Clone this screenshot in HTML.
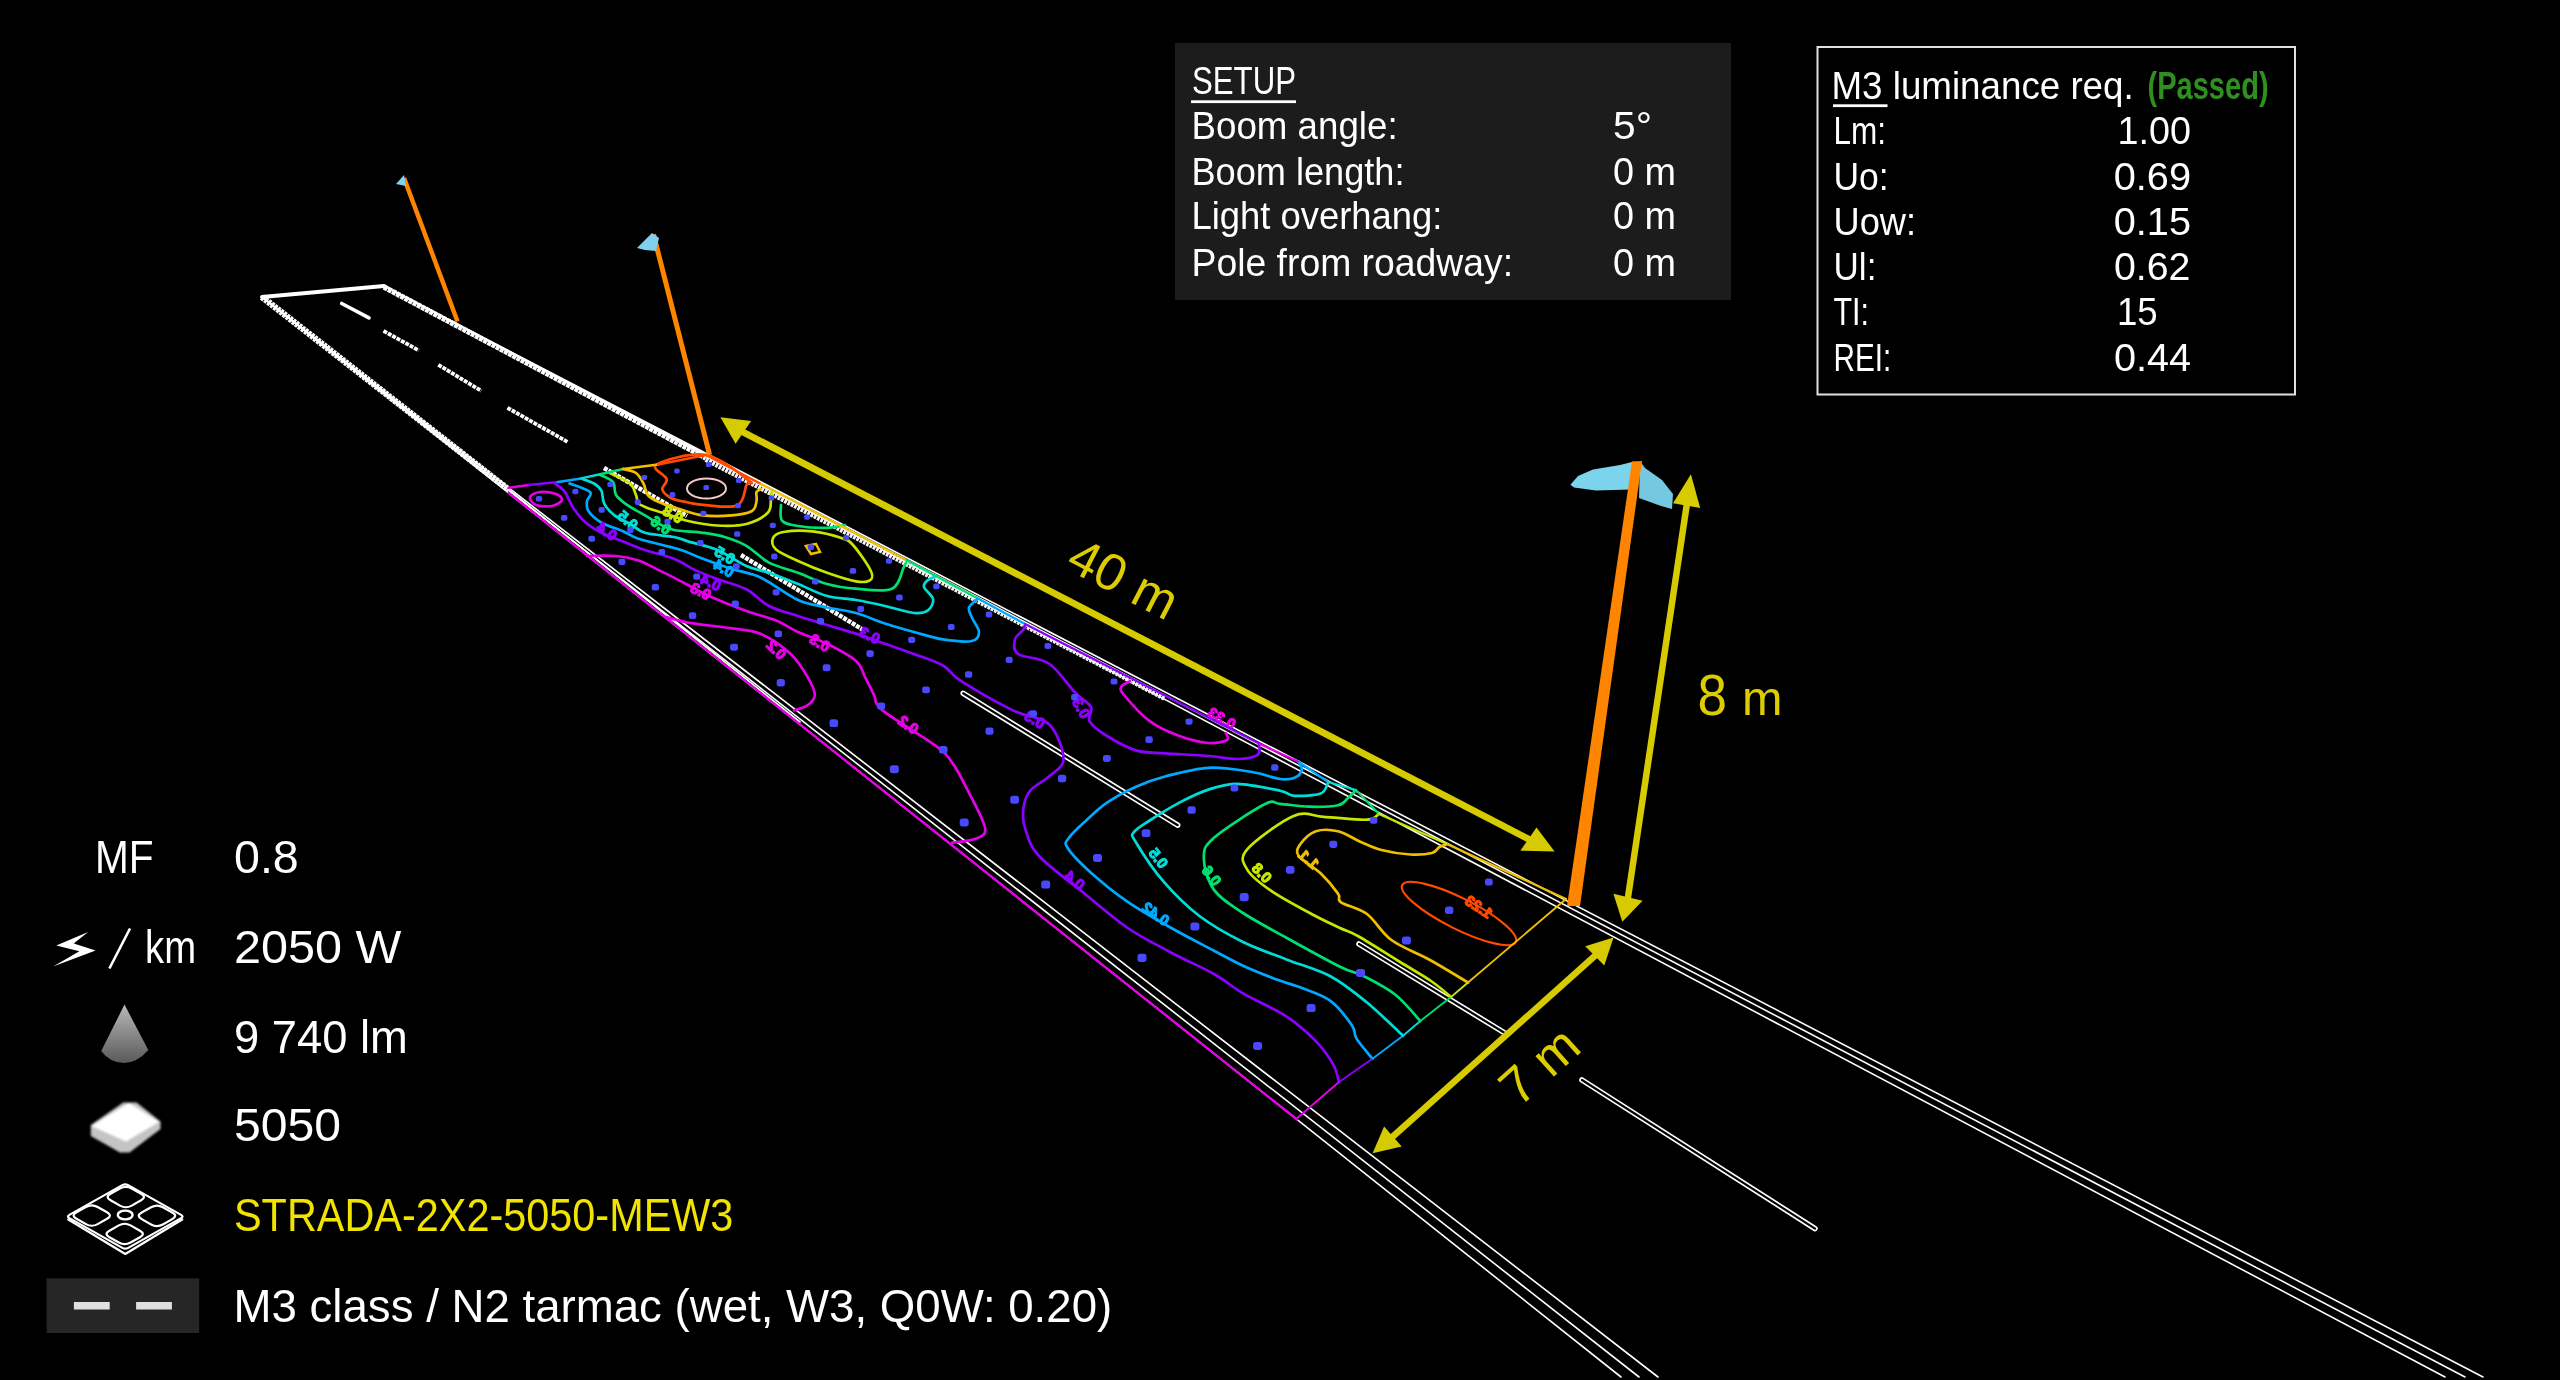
<!DOCTYPE html>
<html><head><meta charset="utf-8"><style>
html,body{margin:0;padding:0;background:#000;overflow:hidden}
svg{display:block}
text{font-family:"Liberation Sans", sans-serif}
svg{will-change:transform}
</style></head><body>
<svg xmlns="http://www.w3.org/2000/svg" width="2560" height="1380" viewBox="0 0 2560 1380">
<rect width="2560" height="1380" fill="#000"/>
<g fill="none" stroke-linecap="round">
<line x1="262" y1="297" x2="384" y2="286" stroke="#fff" stroke-width="4"/>
<line x1="384" y1="286" x2="2483" y2="1377" stroke="#fff" stroke-width="1.6"/>
<line x1="384" y1="286" x2="2465" y2="1377" stroke="#fff" stroke-width="1.6"/>
<line x1="384" y1="286" x2="2445" y2="1377" stroke="#fff" stroke-width="1.6"/>
<line x1="262" y1="297" x2="1621" y2="1377" stroke="#fff" stroke-width="1.6"/>
<line x1="262" y1="297" x2="1639" y2="1377" stroke="#fff" stroke-width="1.6"/>
<line x1="262" y1="297" x2="1658" y2="1377" stroke="#fff" stroke-width="1.6"/>
<line x1="384" y1="287" x2="706" y2="458" stroke="#fff" stroke-width="5.5" stroke-dasharray="4 0.7" stroke-linecap="butt"/>
<line x1="262" y1="297" x2="509" y2="490" stroke="#fff" stroke-width="6.5" stroke-dasharray="3 0.9" stroke-linecap="butt"/>
<line x1="706" y1="459" x2="1165" y2="698" stroke="#f4f4f4" stroke-width="6" stroke-dasharray="2.8 0.9" stroke-linecap="butt"/>
<line x1="509" y1="490" x2="800" y2="722" stroke="#fff" stroke-width="1.6"/>
</g>
<line x1="341.7" y1="303.5" x2="369" y2="317.8" stroke="#fff" stroke-width="3.6" stroke-linecap="round"/>
<line x1="383.5" y1="330.9" x2="418.7" y2="350.4" stroke="#fff" stroke-width="3.8" stroke-linecap="butt" stroke-dasharray="4 1"/>
<line x1="438.3" y1="364.8" x2="481.3" y2="390.9" stroke="#fff" stroke-width="3.8" stroke-linecap="butt" stroke-dasharray="4 1"/>
<line x1="507.4" y1="407.8" x2="567.4" y2="441.8" stroke="#fff" stroke-width="3.8" stroke-linecap="butt" stroke-dasharray="4 1"/>
<line x1="604" y1="468" x2="687" y2="516" stroke="#fff" stroke-width="4.5" stroke-linecap="butt" stroke-dasharray="4 1"/>
<line x1="741" y1="555" x2="865" y2="631" stroke="#fff" stroke-width="4.5" stroke-linecap="butt" stroke-dasharray="4 1"/>
<line x1="963.2" y1="693.3" x2="1177.7" y2="825.2" stroke="#fff" stroke-width="5.5" stroke-linecap="round"/>
<line x1="963.2" y1="693.3" x2="1177.7" y2="825.2" stroke="#000" stroke-width="2.2" stroke-linecap="round"/>
<line x1="1359" y1="944" x2="1505.6" y2="1033.5" stroke="#fff" stroke-width="5.5" stroke-linecap="round"/>
<line x1="1359" y1="944" x2="1505.6" y2="1033.5" stroke="#000" stroke-width="2.2" stroke-linecap="round"/>
<line x1="1582" y1="1080" x2="1815" y2="1228.6" stroke="#fff" stroke-width="5.5" stroke-linecap="round"/>
<line x1="1582" y1="1080" x2="1815" y2="1228.6" stroke="#000" stroke-width="2.2" stroke-linecap="round"/>
<path d="M656.5,464.6 C650.0,468.6 665.7,474.9 666.7,479.0 C667.7,483.1 661.6,486.1 662.3,489.3 C663.0,492.5 666.9,495.8 671.0,498.0 C675.1,500.2 681.2,501.1 687.0,502.3 C692.8,503.5 697.3,504.7 705.8,505.2 C714.2,505.7 730.9,508.6 737.7,505.2 C744.5,501.8 744.5,489.1 746.4,485.0 C748.3,480.9 755.7,485.6 749.0,480.6 C742.3,475.6 721.4,457.7 706.0,455.0 C690.6,452.3 663.0,460.6 656.5,464.6Z" fill="none" stroke="#ff4a00" stroke-width="2.7" stroke-linejoin="round" stroke-linecap="round"/>
<path d="M623.0,469.0 C625.2,469.7 632.6,470.6 636.0,473.0 C639.4,475.4 641.5,479.8 643.5,483.5 C645.5,487.2 645.1,491.9 647.8,495.0 C650.4,498.1 653.9,499.9 659.4,502.3 C664.9,504.7 673.7,507.4 681.0,509.6 C688.3,511.8 694.5,514.4 703.0,515.4 C711.5,516.4 723.8,516.1 732.0,515.4 C740.2,514.7 747.9,513.4 752.0,511.0 C756.1,508.6 755.8,504.2 756.5,501.0 C757.2,497.8 755.8,494.0 756.5,492.0 C757.2,490.0 760.2,489.5 761.0,489.0" fill="none" stroke="#f0c000" stroke-width="2.7" stroke-linejoin="round" stroke-linecap="round"/>
<path d="M610.0,473.0 C613.3,474.8 625.7,479.8 630.0,483.5 C634.3,487.2 634.5,491.6 636.0,495.0 C637.5,498.4 636.3,501.4 639.0,503.8 C641.7,506.2 647.4,507.9 652.0,509.6 C656.6,511.3 660.7,512.1 666.7,514.0 C672.7,515.9 679.6,519.1 688.0,521.0 C696.4,522.9 707.3,525.0 717.0,525.5 C726.7,526.0 737.9,526.2 746.4,524.0 C754.9,521.8 763.9,516.8 768.0,512.5 C772.1,508.2 770.3,501.6 771.0,498.0 C771.7,494.4 771.8,492.2 772.0,491.0" fill="none" stroke="#c8e600" stroke-width="2.7" stroke-linejoin="round" stroke-linecap="round"/>
<path d="M600.0,474.8 C602.2,476.0 610.3,478.6 613.0,482.0 C615.7,485.4 613.6,491.1 616.0,495.0 C618.4,498.9 622.7,501.8 627.5,505.2 C632.3,508.6 639.7,512.3 645.0,515.4 C650.3,518.5 654.6,521.6 659.4,524.0 C664.2,526.4 666.7,528.5 674.0,530.0 C681.3,531.5 694.6,531.6 703.0,532.8 C711.4,534.0 717.4,534.8 724.6,537.0 C731.8,539.2 739.0,541.5 746.4,545.8 C753.8,550.1 760.4,558.1 769.0,562.6 C777.6,567.1 788.3,569.2 798.0,572.8 C807.7,576.4 817.3,581.4 827.0,584.0 C836.7,586.6 845.2,587.9 856.0,588.7 C866.8,589.5 884.0,592.3 892.0,588.7 C900.0,585.1 901.5,571.3 903.8,567.0 C906.1,562.7 905.6,563.7 906.0,563.0" fill="none" stroke="#00e070" stroke-width="2.7" stroke-linejoin="round" stroke-linecap="round"/>
<path d="M781.0,505.0 C781.2,507.6 779.2,517.1 782.0,520.6 C784.8,524.1 790.5,524.8 798.0,526.0 C805.5,527.2 819.2,528.0 827.0,527.8 C834.8,527.6 842.0,525.5 845.0,525.0" fill="none" stroke="#00e070" stroke-width="2.7" stroke-linejoin="round" stroke-linecap="round"/>
<path d="M773.0,538.0 C774.2,535.1 776.9,533.1 783.5,532.0 C790.1,530.9 802.9,530.4 812.5,531.4 C822.1,532.4 834.6,535.7 841.4,538.0 C848.1,540.3 848.2,539.7 853.0,545.0 C857.8,550.3 867.5,564.2 870.4,570.0 C873.3,575.8 872.8,578.1 870.4,580.0 C868.0,581.9 863.2,582.6 856.0,581.4 C848.8,580.2 836.7,576.2 827.0,572.8 C817.3,569.4 806.5,564.9 798.0,561.0 C789.5,557.1 780.2,553.4 776.0,549.6 C771.8,545.8 771.8,540.9 773.0,538.0Z" fill="none" stroke="#c8e600" stroke-width="2.7" stroke-linejoin="round" stroke-linecap="round"/>
<path d="M582.6,479.0 C584.5,479.8 590.9,481.6 594.0,483.5 C597.1,485.4 599.7,487.3 601.4,490.7 C603.1,494.1 602.1,499.7 604.3,503.8 C606.5,507.9 610.1,512.0 614.5,515.4 C618.9,518.8 625.3,521.1 630.4,524.0 C635.5,526.9 637.7,530.6 645.0,532.8 C652.3,535.0 666.8,535.6 674.0,537.0 C681.2,538.4 680.8,539.2 688.0,541.4 C695.2,543.6 707.7,545.9 717.4,550.0 C727.1,554.1 737.8,562.2 746.4,566.0 C755.0,569.8 760.4,569.8 769.0,572.8 C777.6,575.8 788.3,580.1 798.0,584.0 C807.7,587.9 817.3,593.3 827.0,596.0 C836.7,598.7 846.3,598.3 856.0,600.0 C865.7,601.7 875.3,603.8 885.0,606.0 C894.7,608.2 906.8,612.3 914.0,613.0 C921.2,613.7 924.8,612.7 928.0,610.4 C931.2,608.1 933.7,602.9 933.0,599.0 C932.3,595.1 924.8,590.2 924.0,587.0 C923.2,583.8 925.8,581.8 928.0,580.0 C930.2,578.2 935.5,576.7 937.0,576.0" fill="none" stroke="#00dcd8" stroke-width="2.7" stroke-linejoin="round" stroke-linecap="round"/>
<path d="M569.6,483.5 C573.0,484.9 587.1,489.1 590.0,492.0 C592.9,494.9 587.3,497.8 587.0,501.0 C586.7,504.2 586.0,507.4 588.4,511.0 C590.8,514.6 595.6,519.2 601.4,522.6 C607.2,526.0 617.0,528.6 623.0,531.3 C629.0,533.9 631.6,536.3 637.7,538.5 C643.8,540.7 652.2,542.4 659.4,544.3 C666.6,546.2 673.7,547.6 681.0,550.0 C688.3,552.4 694.5,555.6 703.0,558.8 C711.5,562.0 722.3,565.9 732.0,569.0 C741.7,572.1 750.0,572.5 761.0,577.7 C772.0,582.9 787.0,595.0 798.0,600.0 C809.0,605.0 817.3,605.3 827.0,607.5 C836.7,609.7 846.3,610.3 856.0,613.0 C865.7,615.7 875.3,620.3 885.0,623.5 C894.7,626.7 904.3,629.4 914.0,632.0 C923.7,634.6 933.3,637.9 943.0,639.4 C952.7,640.9 966.0,642.2 972.0,641.0 C978.0,639.8 979.0,635.9 979.0,632.0 C979.0,628.1 973.7,621.8 972.0,617.7 C970.3,613.6 968.0,610.6 969.0,607.5 C970.0,604.4 976.2,600.4 977.7,599.0" fill="none" stroke="#00a8ff" stroke-width="2.7" stroke-linejoin="round" stroke-linecap="round"/>
<path d="M555.0,483.5 C556.7,484.9 562.1,488.1 565.0,492.0 C567.9,495.9 569.3,501.9 572.5,506.7 C575.7,511.5 579.2,516.6 584.0,521.0 C588.8,525.4 594.9,529.4 601.4,532.8 C607.9,536.2 615.7,538.5 623.0,541.4 C630.3,544.3 636.5,547.1 645.0,550.0 C653.5,552.9 665.5,555.4 674.0,558.8 C682.5,562.2 688.5,567.0 695.7,570.4 C702.9,573.8 709.0,575.9 717.4,579.0 C725.8,582.1 737.8,584.8 746.4,589.3 C755.0,593.8 760.4,601.5 769.0,606.0 C777.6,610.5 788.3,612.8 798.0,616.0 C807.7,619.2 817.3,622.1 827.0,625.0 C836.7,627.9 846.3,630.5 856.0,633.6 C865.7,636.7 875.3,640.4 885.0,643.8 C894.7,647.2 904.3,650.4 914.0,654.0 C923.7,657.6 935.2,661.0 943.0,665.5 C950.8,670.0 949.2,673.4 960.9,680.9 C972.6,688.4 998.3,703.2 1013.0,710.4 C1027.7,717.6 1040.6,716.2 1049.0,724.3 C1057.4,732.4 1063.5,750.3 1063.5,759.0 C1063.5,767.7 1054.5,771.3 1049.0,776.5 C1043.5,781.7 1034.7,785.2 1030.4,790.4 C1026.2,795.6 1024.4,801.4 1023.5,807.8 C1022.6,814.2 1022.6,820.7 1025.2,828.7 C1027.8,836.7 1029.3,845.3 1039.0,856.0 C1048.7,866.7 1068.8,880.9 1083.5,892.8 C1098.2,904.7 1112.5,917.6 1127.0,927.5 C1141.5,937.4 1155.9,944.5 1170.4,952.2 C1184.9,960.0 1201.8,967.1 1214.0,974.0 C1226.2,980.9 1231.3,986.5 1243.5,993.6 C1255.7,1000.7 1274.9,1008.8 1287.0,1016.8 C1299.1,1024.8 1308.3,1033.4 1316.0,1041.4 C1323.7,1049.4 1329.5,1057.8 1333.3,1064.6 C1337.1,1071.4 1338.0,1079.1 1339.0,1082.0" fill="none" stroke="#8c00ff" stroke-width="2.7" stroke-linejoin="round" stroke-linecap="round"/>
<path d="M1025.0,626.0 C1024.6,626.8 1024.3,628.5 1022.6,630.7 C1020.9,632.9 1015.8,635.5 1015.0,639.4 C1014.2,643.3 1012.3,650.0 1018.0,654.0 C1023.7,658.0 1039.5,657.1 1049.0,663.5 C1058.5,669.9 1068.0,685.2 1075.0,692.5 C1082.0,699.8 1088.6,702.2 1091.0,707.0 C1093.4,711.8 1086.9,716.6 1089.6,721.4 C1092.3,726.2 1099.3,731.2 1107.0,736.0 C1114.7,740.8 1126.3,747.5 1136.0,750.4 C1145.7,753.3 1152.9,752.4 1165.0,753.3 C1177.1,754.2 1196.3,755.0 1208.4,756.0 C1220.5,757.0 1229.2,759.2 1237.4,759.0 C1245.6,758.8 1254.1,757.3 1257.7,754.8 C1261.3,752.3 1258.8,745.8 1259.0,744.0" fill="none" stroke="#8c00ff" stroke-width="2.7" stroke-linejoin="round" stroke-linecap="round"/>
<path d="M1130.0,681.0 C1128.6,682.0 1122.4,684.4 1121.4,686.7 C1120.4,689.0 1119.2,689.2 1124.0,695.0 C1128.8,700.8 1140.8,714.6 1150.0,721.4 C1159.2,728.2 1169.7,732.4 1179.4,736.0 C1189.1,739.6 1200.5,742.3 1208.4,743.0 C1216.3,743.7 1224.1,741.7 1227.0,740.0 C1229.9,738.3 1226.0,734.2 1225.8,733.0" fill="none" stroke="#e600e6" stroke-width="2.7" stroke-linejoin="round" stroke-linecap="round"/>
<path d="M587.0,556.0 C591.8,556.0 607.5,555.3 616.0,556.0 C624.5,556.7 630.5,557.9 637.7,560.3 C644.9,562.7 651.0,566.3 659.4,570.4 C667.8,574.5 679.6,580.6 688.0,585.0 C696.4,589.4 700.3,592.2 710.0,596.5 C719.7,600.8 735.6,607.1 746.4,611.0 C757.2,614.9 766.4,616.5 775.0,620.0 C783.6,623.5 789.3,628.0 798.0,632.0 C806.7,636.0 817.3,639.0 827.0,643.8 C836.7,648.6 849.6,655.4 856.0,661.0 C862.4,666.6 862.2,671.8 865.2,677.4 C868.2,683.0 871.1,689.3 874.0,694.8 C876.9,700.3 872.5,702.0 882.6,710.4 C892.7,718.8 923.2,736.5 934.8,745.2 C946.4,753.9 946.4,754.5 952.2,762.6 C958.0,770.7 964.1,783.0 969.6,794.0 C975.1,805.0 984.3,821.2 985.2,828.7 C986.1,836.2 980.3,836.7 974.8,839.0 C969.3,841.3 956.0,842.0 952.2,842.6" fill="none" stroke="#e600e6" stroke-width="2.7" stroke-linejoin="round" stroke-linecap="round"/>
<path d="M666.7,617.0 C670.2,617.9 677.1,620.7 688.0,622.6 C698.9,624.5 719.8,626.5 732.0,628.4 C744.2,630.3 751.2,629.7 761.0,634.0 C770.8,638.3 782.9,646.8 790.7,654.0 C798.5,661.2 803.8,670.6 807.8,677.4 C811.8,684.2 814.8,690.2 814.8,694.8 C814.8,699.4 811.3,702.6 807.8,705.2 C804.3,707.8 796.3,709.5 794.0,710.4" fill="none" stroke="#e600e6" stroke-width="2.7" stroke-linejoin="round" stroke-linecap="round"/>
<path d="M530.0,497.0 C530.7,494.8 535.7,492.5 540.0,492.0 C544.3,491.5 552.3,492.7 556.0,494.0 C559.7,495.3 562.7,498.0 562.0,500.0 C561.3,502.0 556.3,505.2 552.0,506.0 C547.7,506.8 539.7,506.5 536.0,505.0 C532.3,503.5 529.3,499.2 530.0,497.0Z" fill="none" stroke="#e600e6" stroke-width="2.7" stroke-linejoin="round" stroke-linecap="round"/>
<path d="M1298.8,761.7 C1299.3,763.2 1302.4,767.7 1301.7,770.4 C1301.0,773.1 1298.1,776.3 1294.5,777.7 C1290.9,779.1 1287.1,780.0 1280.0,779.0 C1272.9,778.0 1263.9,773.9 1252.0,772.0 C1240.1,770.1 1222.9,767.0 1208.4,767.8 C1193.9,768.5 1177.1,773.4 1165.0,776.5 C1152.9,779.6 1145.7,782.4 1136.0,786.7 C1126.3,791.1 1115.2,797.1 1107.0,802.6 C1098.8,808.1 1093.0,814.1 1086.7,820.0 C1080.4,825.9 1072.2,833.1 1069.0,837.7 C1065.8,842.3 1063.9,842.0 1067.5,847.8 C1071.1,853.6 1080.8,863.6 1090.7,872.5 C1100.6,881.4 1113.7,892.2 1127.0,901.4 C1140.3,910.6 1155.9,919.3 1170.4,927.5 C1184.9,935.7 1201.8,944.3 1214.0,950.7 C1226.2,957.1 1232.5,961.0 1243.5,966.0 C1254.5,971.0 1270.0,977.0 1279.7,980.6 C1289.4,984.2 1293.0,984.4 1301.4,987.8 C1309.9,991.2 1322.0,994.6 1330.4,1000.9 C1338.8,1007.2 1347.7,1019.2 1352.0,1025.5 C1356.3,1031.8 1353.1,1033.0 1356.5,1038.6 C1359.9,1044.1 1369.8,1055.4 1372.5,1058.8" fill="none" stroke="#00a8ff" stroke-width="2.7" stroke-linejoin="round" stroke-linecap="round"/>
<path d="M1327.8,783.5 C1326.6,785.2 1326.1,791.6 1320.6,793.6 C1315.0,795.6 1301.3,796.3 1294.5,795.8 C1287.7,795.3 1289.5,792.7 1280.0,790.7 C1270.5,788.7 1249.3,784.0 1237.4,783.8 C1225.5,783.6 1218.1,786.5 1208.4,789.6 C1198.7,792.7 1189.1,797.5 1179.4,802.6 C1169.7,807.7 1158.0,815.1 1150.4,820.0 C1142.8,824.9 1136.5,828.3 1134.0,832.0 C1131.5,835.7 1130.8,833.8 1135.7,842.0 C1140.6,850.2 1152.6,868.9 1163.2,881.2 C1173.8,893.5 1186.1,905.9 1199.4,916.0 C1212.7,926.1 1228.5,934.8 1243.0,942.0 C1257.5,949.2 1271.8,953.7 1286.4,959.4 C1301.0,965.1 1317.0,969.1 1330.4,976.2 C1343.8,983.4 1354.6,992.4 1366.7,1002.3 C1378.8,1012.2 1397.0,1030.1 1403.0,1035.7" fill="none" stroke="#00dcd8" stroke-width="2.7" stroke-linejoin="round" stroke-linecap="round"/>
<path d="M1355.4,790.7 C1354.2,791.9 1350.9,795.6 1348.0,798.0 C1345.1,800.4 1344.5,803.8 1338.0,805.2 C1331.5,806.7 1318.7,806.9 1309.0,806.7 C1299.3,806.5 1287.4,804.2 1280.0,803.8 C1272.6,803.4 1275.6,798.6 1264.6,804.3 C1253.6,809.9 1224.1,828.8 1214.0,837.7 C1203.9,846.7 1203.8,849.3 1203.8,858.0 C1203.8,866.7 1207.5,880.7 1214.0,889.9 C1220.5,899.1 1230.9,905.0 1243.0,913.0 C1255.1,921.0 1270.2,928.8 1286.4,937.7 C1302.6,946.7 1327.1,960.3 1340.0,966.7 C1352.9,973.1 1354.5,971.5 1363.8,976.2 C1373.1,980.9 1386.3,987.5 1395.7,995.0 C1405.1,1002.5 1416.2,1016.7 1420.3,1021.0" fill="none" stroke="#00e070" stroke-width="2.7" stroke-linejoin="round" stroke-linecap="round"/>
<path d="M1378.6,814.0 C1376.7,815.0 1376.2,819.2 1367.0,819.7 C1357.8,820.2 1335.7,817.4 1323.5,816.8 C1311.3,816.2 1306.3,810.6 1293.6,816.0 C1280.9,821.4 1254.9,840.4 1247.2,849.3 C1239.5,858.2 1243.1,862.6 1247.2,869.6 C1251.3,876.6 1260.5,883.6 1271.9,891.3 C1283.3,899.0 1304.1,909.9 1315.4,916.0 C1326.8,922.1 1332.6,924.5 1340.0,928.0 C1347.4,931.5 1349.6,931.3 1359.6,937.0 C1369.6,942.7 1388.1,954.7 1400.0,962.0 C1411.9,969.3 1422.5,975.2 1431.0,981.0 C1439.5,986.8 1447.7,994.3 1451.0,997.0" fill="none" stroke="#c8e600" stroke-width="2.7" stroke-linejoin="round" stroke-linecap="round"/>
<path d="M1446.7,844.3 C1445.5,844.8 1441.9,845.5 1439.4,847.0 C1437.0,848.5 1436.8,851.8 1432.0,853.0 C1427.2,854.2 1418.8,855.0 1410.4,854.5 C1402.0,854.0 1389.9,852.2 1381.4,850.0 C1373.0,847.8 1366.9,844.5 1359.7,841.4 C1352.5,838.3 1345.3,833.0 1338.0,831.3 C1330.7,829.6 1322.3,829.1 1316.0,831.3 C1309.7,833.5 1303.2,840.2 1300.3,844.3 C1297.4,848.4 1295.4,851.2 1298.8,856.0 C1302.2,860.8 1314.1,867.0 1320.6,873.3 C1327.1,879.6 1334.6,888.8 1338.0,893.6 C1341.4,898.4 1336.2,898.9 1341.0,902.3 C1345.8,905.7 1358.6,907.7 1367.0,914.0 C1375.4,920.3 1380.9,932.3 1391.4,940.0 C1401.9,947.7 1417.2,952.9 1430.0,960.0 C1442.8,967.1 1461.7,978.8 1468.0,982.5" fill="none" stroke="#f0c000" stroke-width="2.7" stroke-linejoin="round" stroke-linecap="round"/>
<ellipse cx="706.5" cy="488.5" rx="19.5" ry="10" fill="none" stroke="#f4c8c8" stroke-width="2"/>
<ellipse cx="1459" cy="913.5" rx="63.5" ry="15.5" transform="rotate(26.6 1459 913.5)" fill="none" stroke="#ff4a00" stroke-width="2.2"/>
<path d="M806,546 l10,-2 l4,8 l-9,2 z" fill="none" stroke="#f0c000" stroke-width="2.5"/>
<text x="0" y="0" font-size="15" font-weight="bold" fill="#00dcd8" stroke="#00dcd8" stroke-width="1.2" text-anchor="middle" dominant-baseline="central" transform="translate(1158.6,858) rotate(52) scale(-1,1)">0.5</text>
<text x="0" y="0" font-size="15" font-weight="bold" fill="#00e070" stroke="#00e070" stroke-width="1.2" text-anchor="middle" dominant-baseline="central" transform="translate(1211.8,875.5) rotate(52) scale(-1,1)">0.6</text>
<text x="0" y="0" font-size="15" font-weight="bold" fill="#c8e600" stroke="#c8e600" stroke-width="1.2" text-anchor="middle" dominant-baseline="central" transform="translate(1262,872.7) rotate(45) scale(-1,1)">0.8</text>
<text x="0" y="0" font-size="15" font-weight="bold" fill="#f0c000" stroke="#f0c000" stroke-width="1.2" text-anchor="middle" dominant-baseline="central" transform="translate(1309,859) rotate(40) scale(-1,1)">1.1</text>
<text x="0" y="0" font-size="15" font-weight="bold" fill="#00a8ff" stroke="#00a8ff" stroke-width="1.2" text-anchor="middle" dominant-baseline="central" transform="translate(1156,913.6) rotate(35) scale(-1,1)">0.42</text>
<text x="0" y="0" font-size="15" font-weight="bold" fill="#ff4a00" stroke="#ff4a00" stroke-width="1.2" text-anchor="middle" dominant-baseline="central" transform="translate(1479,906.6) rotate(33) scale(-1,1)">1.23</text>
<text x="0" y="0" font-size="15" font-weight="bold" fill="#8c00ff" stroke="#8c00ff" stroke-width="1.2" text-anchor="middle" dominant-baseline="central" transform="translate(1075,880) rotate(38) scale(-1,1)">0.4</text>
<text x="0" y="0" font-size="15" font-weight="bold" fill="#e600e6" stroke="#e600e6" stroke-width="1.2" text-anchor="middle" dominant-baseline="central" transform="translate(1222,718) rotate(30) scale(-1,1)">0.33</text>
<text x="0" y="0" font-size="15" font-weight="bold" fill="#8c00ff" stroke="#8c00ff" stroke-width="1.2" text-anchor="middle" dominant-baseline="central" transform="translate(1081.5,708) rotate(60) scale(-1,1)">0.3</text>
<text x="0" y="0" font-size="15" font-weight="bold" fill="#8c00ff" stroke="#8c00ff" stroke-width="1.2" text-anchor="middle" dominant-baseline="central" transform="translate(1035,719.5) rotate(30) scale(-1,1)">0.3</text>
<text x="0" y="0" font-size="15" font-weight="bold" fill="#e600e6" stroke="#e600e6" stroke-width="1.2" text-anchor="middle" dominant-baseline="central" transform="translate(776.5,649.5) rotate(45) scale(-1,1)">0.2</text>
<text x="0" y="0" font-size="15" font-weight="bold" fill="#e600e6" stroke="#e600e6" stroke-width="1.2" text-anchor="middle" dominant-baseline="central" transform="translate(820,642.5) rotate(30) scale(-1,1)">0.3</text>
<text x="0" y="0" font-size="15" font-weight="bold" fill="#e600e6" stroke="#e600e6" stroke-width="1.2" text-anchor="middle" dominant-baseline="central" transform="translate(908.5,724.5) rotate(35) scale(-1,1)">0.2</text>
<text x="0" y="0" font-size="15" font-weight="bold" fill="#8c00ff" stroke="#8c00ff" stroke-width="1.2" text-anchor="middle" dominant-baseline="central" transform="translate(870,635) rotate(25) scale(-1,1)">0.3</text>
<text x="0" y="0" font-size="15" font-weight="bold" fill="#00dcd8" stroke="#00dcd8" stroke-width="1.2" text-anchor="middle" dominant-baseline="central" transform="translate(628,520) rotate(40) scale(-1,1)">0.5</text>
<text x="0" y="0" font-size="15" font-weight="bold" fill="#8c00ff" stroke="#8c00ff" stroke-width="1.2" text-anchor="middle" dominant-baseline="central" transform="translate(607,531) rotate(35) scale(-1,1)">0.4</text>
<text x="0" y="0" font-size="15" font-weight="bold" fill="#8c00ff" stroke="#8c00ff" stroke-width="1.2" text-anchor="middle" dominant-baseline="central" transform="translate(711,582) rotate(25) scale(-1,1)">0.4</text>
<text x="0" y="0" font-size="15" font-weight="bold" fill="#e600e6" stroke="#e600e6" stroke-width="1.2" text-anchor="middle" dominant-baseline="central" transform="translate(701,591) rotate(25) scale(-1,1)">0.3</text>
<text x="0" y="0" font-size="15" font-weight="bold" fill="#00a8ff" stroke="#00a8ff" stroke-width="1.2" text-anchor="middle" dominant-baseline="central" transform="translate(724,568) rotate(30) scale(-1,1)">0.4</text>
<text x="0" y="0" font-size="15" font-weight="bold" fill="#00dcd8" stroke="#00dcd8" stroke-width="1.2" text-anchor="middle" dominant-baseline="central" transform="translate(725,555) rotate(30) scale(-1,1)">0.5</text>
<text x="0" y="0" font-size="15" font-weight="bold" fill="#00e070" stroke="#00e070" stroke-width="1.2" text-anchor="middle" dominant-baseline="central" transform="translate(661,525) rotate(35) scale(-1,1)">0.6</text>
<text x="0" y="0" font-size="15" font-weight="bold" fill="#c8e600" stroke="#c8e600" stroke-width="1.2" text-anchor="middle" dominant-baseline="central" transform="translate(673,514) rotate(30) scale(-1,1)">0.8</text>
<polyline points="508.7,487.8 529.0,485.0" fill="none" stroke="#e600e6" stroke-width="2.5" stroke-linejoin="round" stroke-linecap="round"/>
<polyline points="529.0,485.0 558.0,482.0" fill="none" stroke="#8c00ff" stroke-width="2.5" stroke-linejoin="round" stroke-linecap="round"/>
<polyline points="558.0,482.0 581.0,478.4" fill="none" stroke="#00a8ff" stroke-width="2.5" stroke-linejoin="round" stroke-linecap="round"/>
<polyline points="581.0,478.4 601.4,474.0" fill="none" stroke="#00dcd8" stroke-width="2.5" stroke-linejoin="round" stroke-linecap="round"/>
<polyline points="601.4,474.0 623.0,469.0" fill="none" stroke="#00e070" stroke-width="2.5" stroke-linejoin="round" stroke-linecap="round"/>
<polyline points="623.0,469.0 658.0,464.6" fill="none" stroke="#f0c000" stroke-width="2.5" stroke-linejoin="round" stroke-linecap="round"/>
<polyline points="658.0,464.6 706.0,455.0" fill="none" stroke="#ff4a00" stroke-width="2.5" stroke-linejoin="round" stroke-linecap="round"/>
<polyline points="1297.0,1118.3 1339.0,1082.0" fill="none" stroke="#e600e6" stroke-width="1.8" stroke-linejoin="round" stroke-linecap="round"/>
<polyline points="1339.0,1082.0 1372.5,1058.8" fill="none" stroke="#8c00ff" stroke-width="1.8" stroke-linejoin="round" stroke-linecap="round"/>
<polyline points="1372.5,1058.8 1403.0,1035.7" fill="none" stroke="#00a8ff" stroke-width="1.8" stroke-linejoin="round" stroke-linecap="round"/>
<polyline points="1403.0,1035.7 1420.3,1021.0" fill="none" stroke="#00dcd8" stroke-width="1.8" stroke-linejoin="round" stroke-linecap="round"/>
<polyline points="1420.3,1021.0 1451.0,997.0" fill="none" stroke="#00e070" stroke-width="1.8" stroke-linejoin="round" stroke-linecap="round"/>
<polyline points="1451.0,997.0 1468.0,982.5" fill="none" stroke="#c8e600" stroke-width="1.8" stroke-linejoin="round" stroke-linecap="round"/>
<polyline points="1468.0,982.5 1566.0,899.0" fill="none" stroke="#f0c000" stroke-width="1.8" stroke-linejoin="round" stroke-linecap="round"/>
<polyline points="508.7,493.0 1297.0,1119.5" fill="none" stroke="#e600e6" stroke-width="2.3" stroke-linejoin="round" stroke-linecap="round"/>
<polyline points="706.0,455.0 761.0,484.0" fill="none" stroke="#ff4a00" stroke-width="2.2" stroke-linejoin="round" stroke-linecap="round"/>
<polyline points="761.0,484.0 906.0,560.0" fill="none" stroke="#f0c000" stroke-width="2.2" stroke-linejoin="round" stroke-linecap="round"/>
<polyline points="906.0,560.0 977.0,598.0" fill="none" stroke="#00e070" stroke-width="2.2" stroke-linejoin="round" stroke-linecap="round"/>
<polyline points="977.0,598.0 1025.0,624.0" fill="none" stroke="#00a8ff" stroke-width="2.2" stroke-linejoin="round" stroke-linecap="round"/>
<polyline points="1025.0,624.0 1260.0,744.0" fill="none" stroke="#8c00ff" stroke-width="2.2" stroke-linejoin="round" stroke-linecap="round"/>
<polyline points="1260.0,744.0 1299.0,762.0" fill="none" stroke="#e600e6" stroke-width="2.2" stroke-linejoin="round" stroke-linecap="round"/>
<polyline points="1299.0,762.0 1328.0,782.0" fill="none" stroke="#00a8ff" stroke-width="2.2" stroke-linejoin="round" stroke-linecap="round"/>
<polyline points="1328.0,782.0 1356.0,790.0" fill="none" stroke="#00dcd8" stroke-width="2.2" stroke-linejoin="round" stroke-linecap="round"/>
<polyline points="1356.0,790.0 1379.0,814.0" fill="none" stroke="#00e070" stroke-width="2.2" stroke-linejoin="round" stroke-linecap="round"/>
<polyline points="1379.0,814.0 1447.0,844.0" fill="none" stroke="#c8e600" stroke-width="2.2" stroke-linejoin="round" stroke-linecap="round"/>
<polyline points="1447.0,844.0 1566.0,899.0" fill="none" stroke="#f0c000" stroke-width="2.2" stroke-linejoin="round" stroke-linecap="round"/>
<rect x="535.9" y="495.9" width="6.3" height="5.7" rx="1.9" fill="#4848ff"/>
<rect x="572.3" y="488.7" width="6.1" height="5.5" rx="1.8" fill="#4848ff"/>
<rect x="607.4" y="481.7" width="5.9" height="5.3" rx="1.8" fill="#4848ff"/>
<rect x="641.4" y="474.9" width="5.7" height="5.1" rx="1.7" fill="#4848ff"/>
<rect x="674.2" y="468.4" width="5.5" height="5.0" rx="1.6" fill="#4848ff"/>
<rect x="705.9" y="462.0" width="5.5" height="5.0" rx="1.6" fill="#4848ff"/>
<rect x="560.9" y="514.9" width="6.5" height="5.9" rx="2.0" fill="#4848ff"/>
<rect x="598.5" y="507.0" width="6.3" height="5.7" rx="1.9" fill="#4848ff"/>
<rect x="634.7" y="499.4" width="6.1" height="5.5" rx="1.8" fill="#4848ff"/>
<rect x="669.6" y="492.1" width="5.8" height="5.3" rx="1.8" fill="#4848ff"/>
<rect x="703.4" y="485.0" width="5.7" height="5.1" rx="1.7" fill="#4848ff"/>
<rect x="736.0" y="478.1" width="5.5" height="5.0" rx="1.6" fill="#4848ff"/>
<rect x="588.3" y="535.7" width="6.7" height="6.1" rx="2.0" fill="#4848ff"/>
<rect x="627.1" y="527.1" width="6.5" height="5.8" rx="1.9" fill="#4848ff"/>
<rect x="664.4" y="518.8" width="6.3" height="5.6" rx="1.9" fill="#4848ff"/>
<rect x="700.4" y="510.7" width="6.0" height="5.4" rx="1.8" fill="#4848ff"/>
<rect x="735.1" y="503.0" width="5.8" height="5.2" rx="1.7" fill="#4848ff"/>
<rect x="768.6" y="495.5" width="5.6" height="5.1" rx="1.7" fill="#4848ff"/>
<rect x="618.4" y="558.7" width="7.0" height="6.3" rx="2.1" fill="#4848ff"/>
<rect x="658.5" y="549.1" width="6.7" height="6.0" rx="2.0" fill="#4848ff"/>
<rect x="697.1" y="540.0" width="6.5" height="5.8" rx="1.9" fill="#4848ff"/>
<rect x="734.1" y="531.2" width="6.2" height="5.6" rx="1.9" fill="#4848ff"/>
<rect x="769.8" y="522.7" width="6.0" height="5.4" rx="1.8" fill="#4848ff"/>
<rect x="804.1" y="514.5" width="5.8" height="5.2" rx="1.7" fill="#4848ff"/>
<rect x="651.7" y="584.0" width="7.3" height="6.5" rx="2.2" fill="#4848ff"/>
<rect x="693.2" y="573.5" width="7.0" height="6.3" rx="2.1" fill="#4848ff"/>
<rect x="733.0" y="563.3" width="6.7" height="6.0" rx="2.0" fill="#4848ff"/>
<rect x="771.1" y="553.6" width="6.4" height="5.8" rx="1.9" fill="#4848ff"/>
<rect x="807.8" y="544.3" width="6.2" height="5.6" rx="1.9" fill="#4848ff"/>
<rect x="843.0" y="535.3" width="5.9" height="5.3" rx="1.8" fill="#4848ff"/>
<rect x="688.8" y="612.2" width="7.5" height="6.8" rx="2.3" fill="#4848ff"/>
<rect x="731.7" y="600.4" width="7.2" height="6.5" rx="2.2" fill="#4848ff"/>
<rect x="772.7" y="589.2" width="6.9" height="6.2" rx="2.1" fill="#4848ff"/>
<rect x="812.0" y="578.4" width="6.6" height="6.0" rx="2.0" fill="#4848ff"/>
<rect x="849.7" y="568.1" width="6.4" height="5.7" rx="1.9" fill="#4848ff"/>
<rect x="885.9" y="558.2" width="6.1" height="5.5" rx="1.8" fill="#4848ff"/>
<rect x="730.1" y="643.7" width="7.9" height="7.1" rx="2.4" fill="#4848ff"/>
<rect x="774.6" y="630.5" width="7.5" height="6.7" rx="2.2" fill="#4848ff"/>
<rect x="816.9" y="618.0" width="7.2" height="6.4" rx="2.1" fill="#4848ff"/>
<rect x="857.4" y="606.0" width="6.8" height="6.2" rx="2.1" fill="#4848ff"/>
<rect x="896.1" y="594.5" width="6.6" height="5.9" rx="2.0" fill="#4848ff"/>
<rect x="933.2" y="583.5" width="6.3" height="5.7" rx="1.9" fill="#4848ff"/>
<rect x="776.7" y="679.1" width="8.2" height="7.4" rx="2.5" fill="#4848ff"/>
<rect x="822.7" y="664.3" width="7.8" height="7.0" rx="2.3" fill="#4848ff"/>
<rect x="866.4" y="650.2" width="7.4" height="6.7" rx="2.2" fill="#4848ff"/>
<rect x="908.1" y="636.7" width="7.1" height="6.4" rx="2.1" fill="#4848ff"/>
<rect x="947.8" y="623.9" width="6.8" height="6.1" rx="2.0" fill="#4848ff"/>
<rect x="985.8" y="611.6" width="6.5" height="5.8" rx="1.9" fill="#4848ff"/>
<rect x="829.5" y="719.3" width="8.6" height="7.7" rx="2.6" fill="#4848ff"/>
<rect x="877.1" y="702.4" width="8.1" height="7.3" rx="2.4" fill="#4848ff"/>
<rect x="922.2" y="686.4" width="7.7" height="6.9" rx="2.3" fill="#4848ff"/>
<rect x="965.0" y="671.2" width="7.3" height="6.6" rx="2.2" fill="#4848ff"/>
<rect x="1005.7" y="656.8" width="7.0" height="6.3" rx="2.1" fill="#4848ff"/>
<rect x="1044.5" y="643.0" width="6.7" height="6.0" rx="2.0" fill="#4848ff"/>
<rect x="889.8" y="765.2" width="9.0" height="8.1" rx="2.7" fill="#4848ff"/>
<rect x="939.0" y="745.9" width="8.5" height="7.6" rx="2.5" fill="#4848ff"/>
<rect x="985.5" y="727.6" width="8.0" height="7.2" rx="2.4" fill="#4848ff"/>
<rect x="1029.4" y="710.3" width="7.6" height="6.8" rx="2.3" fill="#4848ff"/>
<rect x="1071.1" y="693.9" width="7.2" height="6.5" rx="2.2" fill="#4848ff"/>
<rect x="1110.6" y="678.4" width="6.9" height="6.2" rx="2.1" fill="#4848ff"/>
<rect x="959.7" y="818.4" width="9.0" height="8.1" rx="2.7" fill="#4848ff"/>
<rect x="1010.2" y="795.8" width="8.8" height="8.0" rx="2.7" fill="#4848ff"/>
<rect x="1057.9" y="774.8" width="8.3" height="7.5" rx="2.5" fill="#4848ff"/>
<rect x="1102.9" y="754.9" width="7.9" height="7.1" rx="2.4" fill="#4848ff"/>
<rect x="1145.4" y="736.2" width="7.4" height="6.7" rx="2.2" fill="#4848ff"/>
<rect x="1185.5" y="718.4" width="7.1" height="6.3" rx="2.1" fill="#4848ff"/>
<rect x="1041.2" y="880.5" width="9.0" height="8.1" rx="2.7" fill="#4848ff"/>
<rect x="1093.0" y="853.9" width="9.0" height="8.1" rx="2.7" fill="#4848ff"/>
<rect x="1141.7" y="829.3" width="8.7" height="7.8" rx="2.6" fill="#4848ff"/>
<rect x="1187.5" y="806.3" width="8.2" height="7.4" rx="2.5" fill="#4848ff"/>
<rect x="1230.6" y="784.6" width="7.7" height="6.9" rx="2.3" fill="#4848ff"/>
<rect x="1271.1" y="764.2" width="7.3" height="6.5" rx="2.2" fill="#4848ff"/>
<rect x="1137.5" y="953.8" width="9.0" height="8.1" rx="2.7" fill="#4848ff"/>
<rect x="1190.4" y="922.4" width="9.0" height="8.1" rx="2.7" fill="#4848ff"/>
<rect x="1239.7" y="893.1" width="9.0" height="8.1" rx="2.7" fill="#4848ff"/>
<rect x="1286.0" y="866.0" width="8.5" height="7.7" rx="2.6" fill="#4848ff"/>
<rect x="1329.3" y="840.7" width="8.0" height="7.2" rx="2.4" fill="#4848ff"/>
<rect x="1369.9" y="817.0" width="7.5" height="6.7" rx="2.2" fill="#4848ff"/>
<rect x="1253.1" y="1041.9" width="9.0" height="8.1" rx="2.7" fill="#4848ff"/>
<rect x="1306.6" y="1004.0" width="9.0" height="8.1" rx="2.7" fill="#4848ff"/>
<rect x="1356.0" y="968.9" width="9.0" height="8.1" rx="2.7" fill="#4848ff"/>
<rect x="1402.0" y="936.4" width="8.9" height="8.0" rx="2.7" fill="#4848ff"/>
<rect x="1445.0" y="906.5" width="8.3" height="7.5" rx="2.5" fill="#4848ff"/>
<rect x="1485.0" y="878.6" width="7.7" height="7.0" rx="2.3" fill="#4848ff"/>
<line x1="404" y1="178" x2="457.5" y2="321.5" stroke="#ff8400" stroke-width="4.5"/>
<polygon points="396,184 404,175 406,186" fill="#80d0f0"/>
<line x1="653.5" y1="234.4" x2="709.6" y2="454.8" stroke="#ff8400" stroke-width="5"/>
<polygon points="637,248 652,233 659,238 656,251 645,250" fill="#80d0f0"/>
<polygon points="1570.4,484.7 1578,476 1593,469.5 1620,465 1634,461.5 1630,489.5 1596,490.6 1574,487.5" fill="#7cd4ec"/>
<polygon points="1640,461 1645,468 1662,480 1673,494 1672,509 1661,506 1639,498" fill="#74c8e0"/>
<polygon points="1632,461.5 1642,461 1580,906 1567,906" fill="#ff8400"/>
<polygon points="720.4,417.2 751.1,420.9 735.6,443.7" fill="#d6ca00"/>
<polygon points="1554.6,851.5 1536.5,827.4 1520.4,850.7" fill="#d6ca00"/>
<line x1="738.0" y1="429.5" x2="1533.8" y2="841.8" stroke="#d6ca00" stroke-width="6.8"/>
<polygon points="1690.9,474.3 1673.0,503.3 1700.2,508.0" fill="#d6ca00"/>
<polygon points="1622.3,921.7 1613.4,893.8 1642.6,900.7" fill="#d6ca00"/>
<line x1="1687.5" y1="499.7" x2="1627.1" y2="903.2" stroke="#d6ca00" stroke-width="6.5"/>
<polygon points="1613.5,937.4 1585.2,946.3 1604.3,965.6" fill="#d6ca00"/>
<polygon points="1372.6,1153.3 1384.1,1126.5 1401.7,1146.5" fill="#d6ca00"/>
<line x1="1599.2" y1="952.0" x2="1388.4" y2="1140.5" stroke="#d6ca00" stroke-width="6.5"/>
<text x="0" y="0" font-size="52" fill="#dccc00" transform="translate(1064,568) rotate(27.3)">40 m</text>
<text x="1697.5" y="714.8" font-size="57.5" fill="#dccc00" textLength="29.5" lengthAdjust="spacingAndGlyphs">8</text>
<text x="1742" y="714.8" font-size="49" fill="#dccc00" textLength="40.5" lengthAdjust="spacingAndGlyphs">m</text>
<text x="0" y="0" font-size="52" fill="#dccc00" transform="translate(1519,1108) rotate(-41.9)">7 m</text>
<rect x="1175" y="43" width="556" height="257" fill="#1c1c1c"/>
<text x="1192.0" y="94.4" font-size="39" fill="#fff" font-weight="normal" textLength="104.0" lengthAdjust="spacingAndGlyphs">SETUP</text>
<rect x="1191" y="100.3" width="105" height="2.8" fill="#fff"/>
<text x="1191.5" y="139.2" font-size="39" fill="#fff" font-weight="normal" textLength="206.1" lengthAdjust="spacingAndGlyphs">Boom angle:</text>
<text x="1191.5" y="184.7" font-size="39" fill="#fff" font-weight="normal" textLength="213.0" lengthAdjust="spacingAndGlyphs">Boom length:</text>
<text x="1191.5" y="229.4" font-size="39" fill="#fff" font-weight="normal" textLength="250.9" lengthAdjust="spacingAndGlyphs">Light overhang:</text>
<text x="1191.5" y="275.5" font-size="39" fill="#fff" font-weight="normal" textLength="321.6" lengthAdjust="spacingAndGlyphs">Pole from roadway:</text>
<text x="1613.0" y="139.2" font-size="39" fill="#fff" font-weight="normal" textLength="39.0" lengthAdjust="spacingAndGlyphs">5°</text>
<text x="1613.0" y="184.7" font-size="39" fill="#fff" font-weight="normal" textLength="63.0" lengthAdjust="spacingAndGlyphs">0 m</text>
<text x="1613.0" y="229.4" font-size="39" fill="#fff" font-weight="normal" textLength="63.0" lengthAdjust="spacingAndGlyphs">0 m</text>
<text x="1613.0" y="275.5" font-size="39" fill="#fff" font-weight="normal" textLength="63.0" lengthAdjust="spacingAndGlyphs">0 m</text>
<rect x="1817.5" y="47" width="477.5" height="347.5" fill="none" stroke="#e0e0e0" stroke-width="2"/>
<text x="1831.5" y="99.1" font-size="39" fill="#fff" font-weight="normal" textLength="302.2" lengthAdjust="spacingAndGlyphs">M3 luminance req.</text>
<rect x="1833" y="104.3" width="54.5" height="2.8" fill="#fff"/>
<text x="2147.5" y="98.5" font-size="39" fill="#2f8f1f" font-weight="bold" textLength="121.1" lengthAdjust="spacingAndGlyphs">(Passed)</text>
<text x="1833.5" y="144.1" font-size="39" fill="#fff" font-weight="normal" textLength="52.6" lengthAdjust="spacingAndGlyphs">Lm:</text>
<text x="1833.5" y="190.0" font-size="39" fill="#fff" font-weight="normal" textLength="55.2" lengthAdjust="spacingAndGlyphs">Uo:</text>
<text x="1833.5" y="234.8" font-size="39" fill="#fff" font-weight="normal" textLength="82.5" lengthAdjust="spacingAndGlyphs">Uow:</text>
<text x="1833.5" y="280.1" font-size="39" fill="#fff" font-weight="normal" textLength="42.9" lengthAdjust="spacingAndGlyphs">Ul:</text>
<text x="1833.5" y="325.3" font-size="39" fill="#fff" font-weight="normal" textLength="35.5" lengthAdjust="spacingAndGlyphs">TI:</text>
<text x="1833.5" y="370.6" font-size="39" fill="#fff" font-weight="normal" textLength="57.8" lengthAdjust="spacingAndGlyphs">REI:</text>
<text x="2117.6" y="144.1" font-size="39" fill="#fff" font-weight="normal" textLength="73.4" lengthAdjust="spacingAndGlyphs">1.00</text>
<text x="2113.7" y="190.0" font-size="39" fill="#fff" font-weight="normal" textLength="77.3" lengthAdjust="spacingAndGlyphs">0.69</text>
<text x="2113.7" y="234.8" font-size="39" fill="#fff" font-weight="normal" textLength="77.3" lengthAdjust="spacingAndGlyphs">0.15</text>
<text x="2113.9" y="280.1" font-size="39" fill="#fff" font-weight="normal" textLength="76.5" lengthAdjust="spacingAndGlyphs">0.62</text>
<text x="2116.9" y="325.3" font-size="39" fill="#fff" font-weight="normal" textLength="40.8" lengthAdjust="spacingAndGlyphs">15</text>
<text x="2113.9" y="370.6" font-size="39" fill="#fff" font-weight="normal" textLength="77.2" lengthAdjust="spacingAndGlyphs">0.44</text>
<text x="95.0" y="872.7" font-size="47" fill="#fff" font-weight="normal" textLength="58.6" lengthAdjust="spacingAndGlyphs">MF</text>
<text x="234.0" y="872.7" font-size="47" fill="#fff" font-weight="normal" textLength="64.7" lengthAdjust="spacingAndGlyphs">0.8</text>
<polygon points="88.1,931.9 73.75,943.4 95.6,950.6 53.1,966.6 79.4,951.25 56.25,945.6" fill="#fff"/>
<line x1="130" y1="928.5" x2="109.4" y2="968.5" stroke="#fff" stroke-width="2.6"/>
<text x="145.0" y="963.2" font-size="47" fill="#fff" font-weight="normal" textLength="51.0" lengthAdjust="spacingAndGlyphs">km</text>
<text x="234.0" y="963.2" font-size="47" fill="#fff" font-weight="normal" textLength="167.3" lengthAdjust="spacingAndGlyphs">2050 W</text>
<defs><linearGradient id="cg" x1="0" y1="0" x2="0" y2="1"><stop offset="0" stop-color="#b8b8b8"/><stop offset="1" stop-color="#5a5a5a"/></linearGradient><linearGradient id="lg" x1="0" y1="0" x2="0" y2="1"><stop offset="0" stop-color="#fff"/><stop offset="0.7" stop-color="#f4f4f4"/><stop offset="1" stop-color="#9a9a9a"/></linearGradient></defs>
<path d="M124.5,1004.6 L148.3,1050 Q137,1063 124,1063 Q110,1063 101.2,1051 Z" fill="url(#cg)"/>
<text x="234.0" y="1052.7" font-size="47" fill="#fff" font-weight="normal" textLength="173.9" lengthAdjust="spacingAndGlyphs">9 740 lm</text>
<defs><filter id="bl" x="-20%" y="-20%" width="140%" height="140%"><feGaussianBlur stdDeviation="1.3"/></filter></defs>
<g filter="url(#bl)"><polygon points="123.3,1102.5 136.5,1102.5 160.5,1121.4 160.5,1129 129.5,1152.5 120,1152.5 90.8,1136 90.8,1125" fill="#c4c4c4"/><polygon points="129,1103 159,1122 126,1141.5 91.5,1126" fill="#fff"/></g>
<text x="234.0" y="1140.9" font-size="47" fill="#fff" font-weight="normal" textLength="107.0" lengthAdjust="spacingAndGlyphs">5050</text>
<g fill="none" stroke="#fff" stroke-width="2.2" stroke-linejoin="round"><path d="M122.27,1185.15 Q125.20,1183.50 128.14,1185.15 L181.06,1214.85 Q184.00,1216.50 181.06,1218.15 L128.24,1247.85 Q125.30,1249.50 122.36,1247.85 L69.44,1218.15 Q66.50,1216.50 69.44,1214.85 Z"/><path d="M67.5,1219.0 L125.3,1254.0 L183.0,1219.0"/><path d="M119.92,1188.45 Q125.79,1185.15 131.67,1188.45 L141.08,1193.73 Q146.96,1197.03 141.09,1200.33 L131.70,1205.61 Q125.83,1208.91 119.95,1205.61 L110.54,1200.33 Q104.66,1197.03 110.53,1193.73 Z"/><path d="M151.09,1207.26 Q156.96,1203.96 162.84,1207.26 L172.24,1212.54 Q178.12,1215.84 172.25,1219.14 L162.86,1224.42 Q156.99,1227.72 151.11,1224.42 L141.70,1219.14 Q135.82,1215.84 141.69,1212.54 Z"/><path d="M85.87,1206.93 Q91.74,1203.63 97.62,1206.93 L107.03,1212.21 Q112.91,1215.51 107.04,1218.81 L97.65,1224.09 Q91.78,1227.39 85.90,1224.09 L76.49,1218.81 Q70.61,1215.51 76.48,1212.21 Z"/><path d="M118.80,1225.41 Q124.67,1222.11 130.55,1225.41 L139.96,1230.69 Q145.84,1233.99 139.97,1237.29 L130.58,1242.57 Q124.71,1245.87 118.83,1242.57 L109.42,1237.29 Q103.54,1233.99 109.41,1230.69 Z"/><ellipse cx="125.2" cy="1215" rx="7.4" ry="4.4" stroke-width="2.4"/></g>
<text x="234.0" y="1231.3" font-size="47" fill="#f0e400" font-weight="normal" textLength="499.4" lengthAdjust="spacingAndGlyphs">STRADA-2X2-5050-MEW3</text>
<rect x="46.6" y="1278.4" width="152.6" height="54.6" fill="#262626"/>
<rect x="73.9" y="1302" width="35.8" height="7.5" fill="#e0e0e0"/><rect x="136.1" y="1302" width="35.8" height="7.5" fill="#e0e0e0"/>
<text x="233.5" y="1321.7" font-size="47" fill="#fff" font-weight="normal" textLength="878.7" lengthAdjust="spacingAndGlyphs">M3 class / N2 tarmac (wet, W3, Q0W: 0.20)</text>
</svg>
</body></html>
